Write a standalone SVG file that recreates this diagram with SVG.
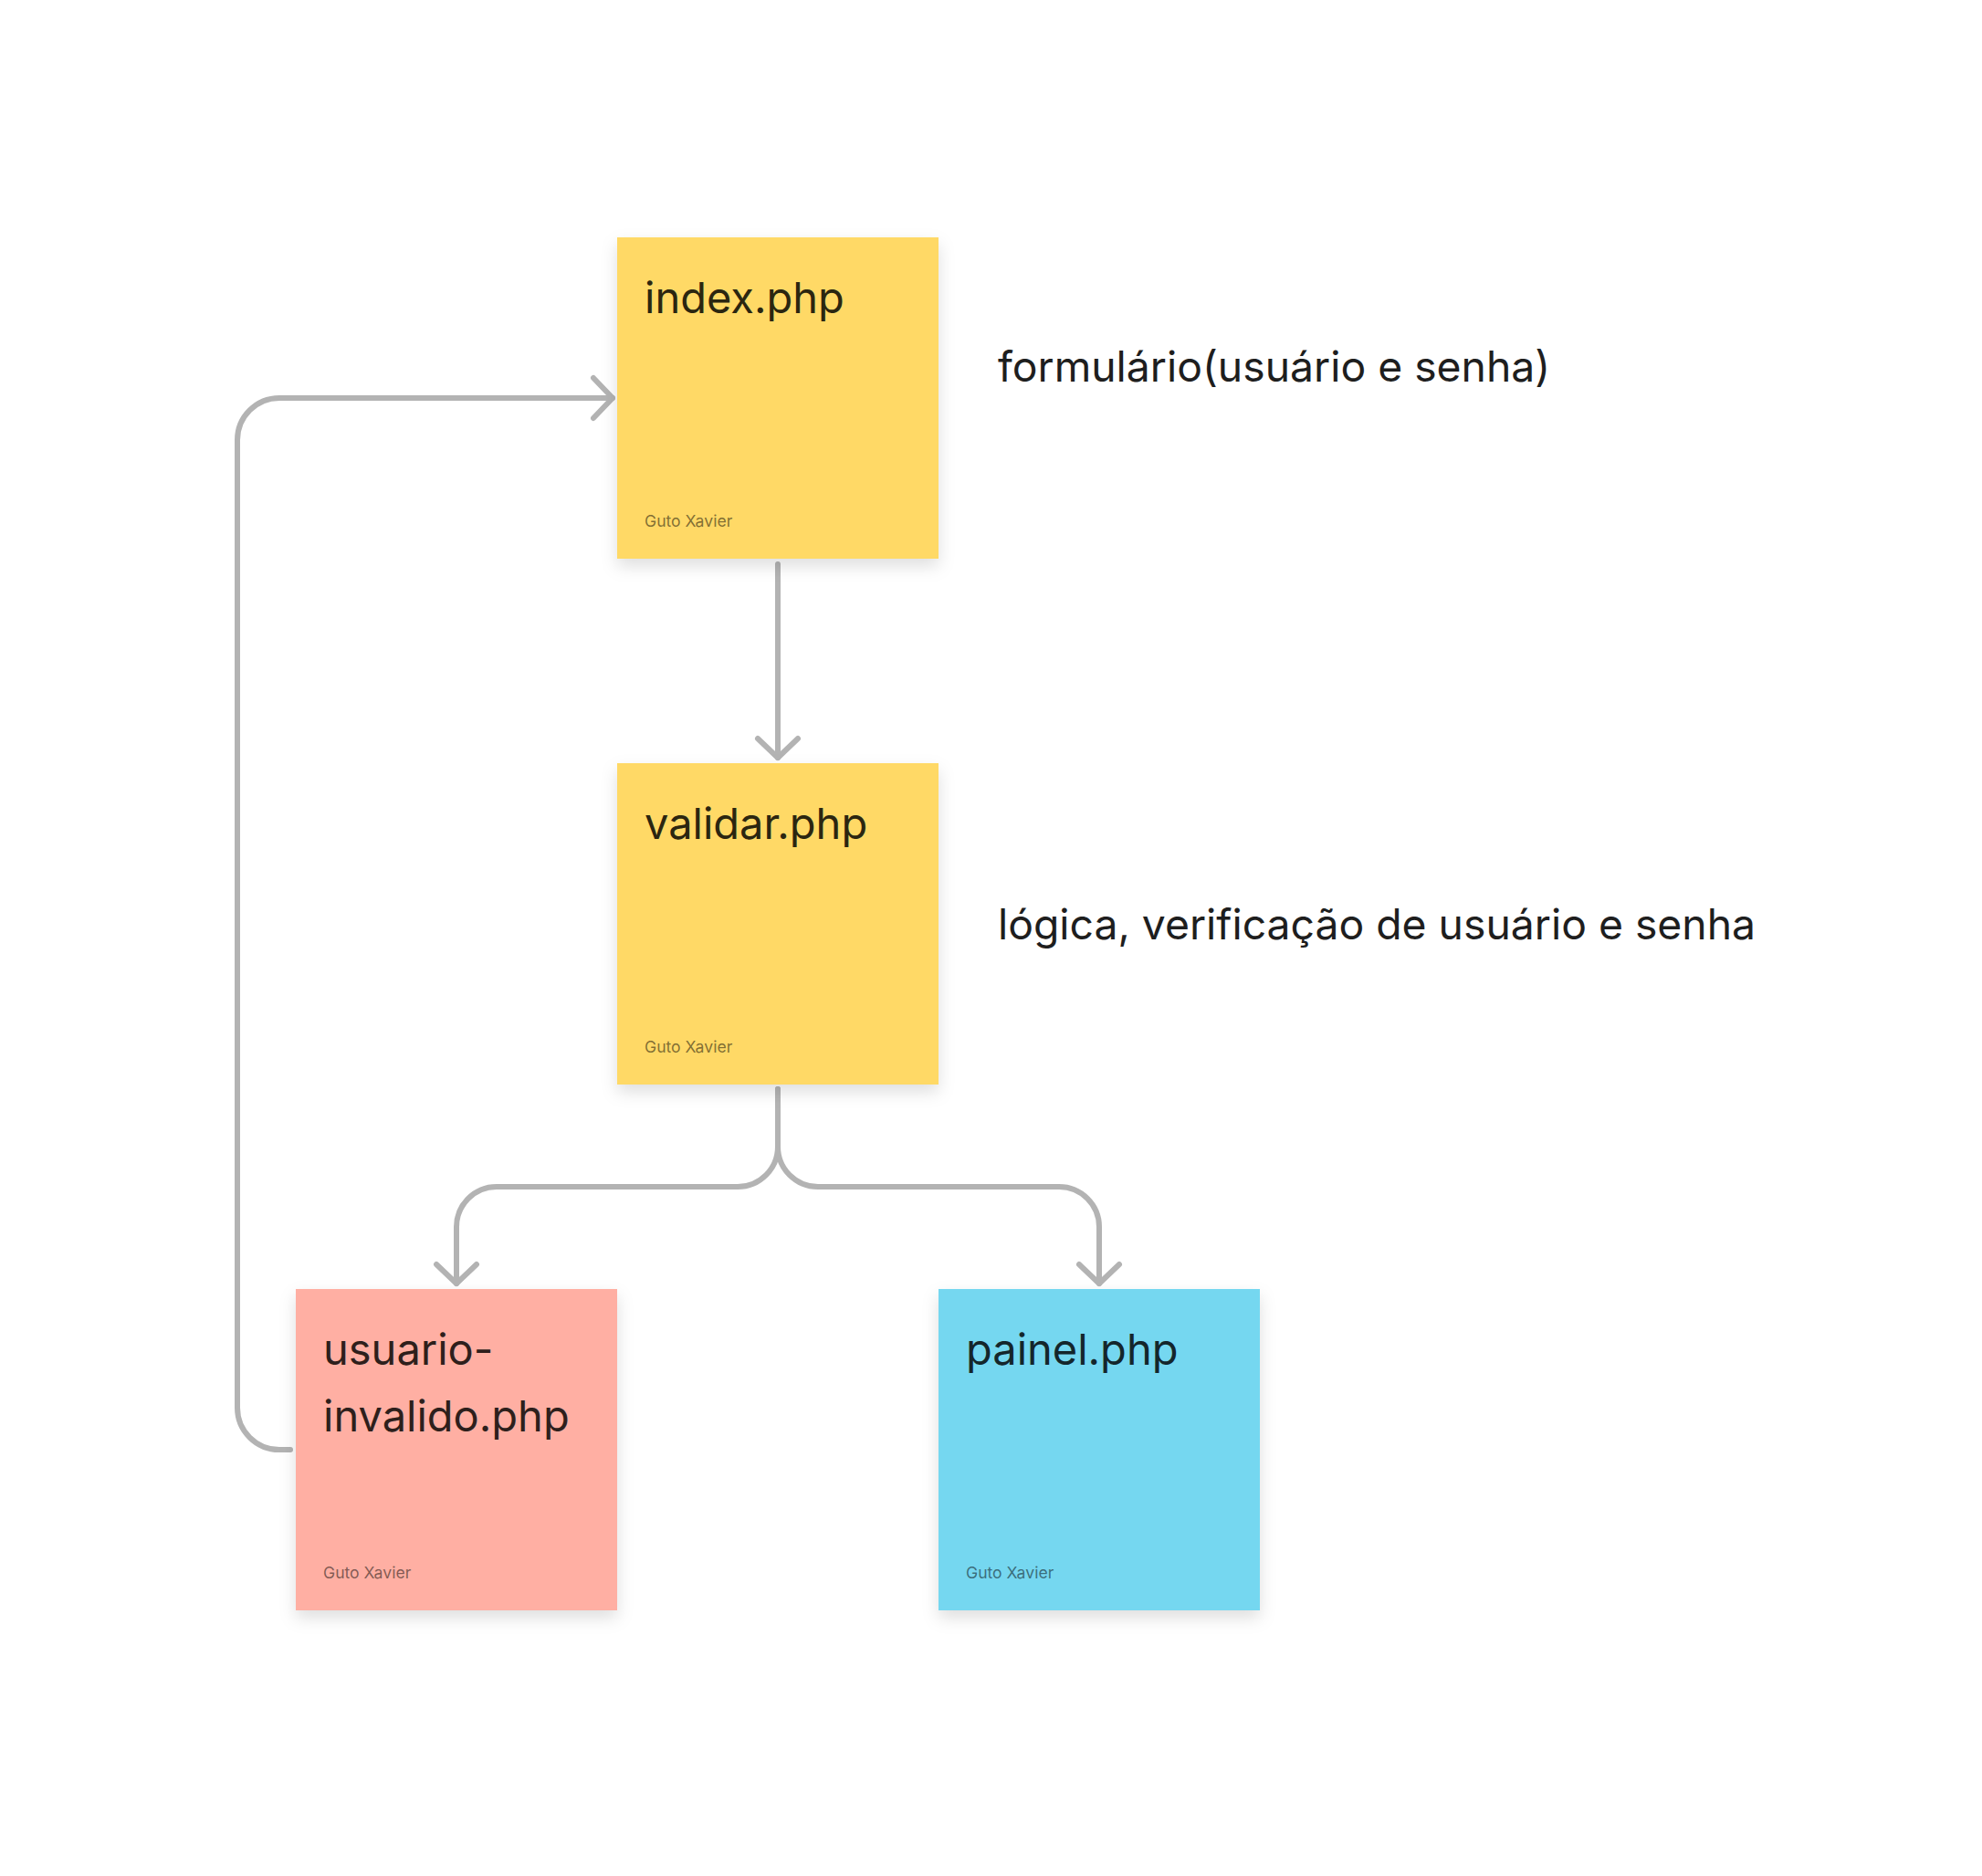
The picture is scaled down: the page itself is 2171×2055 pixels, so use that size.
<svg xmlns="http://www.w3.org/2000/svg" width="2171" height="2055" viewBox="0 0 2171 2055">
<style>
.title{font-family:Inter,"Noto Sans","Liberation Sans",sans-serif;font-size:47px;}
.author{font-family:Inter,"Noto Sans","Liberation Sans",sans-serif;font-size:17.6px;}
.label{font-family:Inter,"Noto Sans","Liberation Sans",sans-serif;font-size:46.3px;fill:#1e1e1e;}
.conn{fill:none;stroke:#b3b3b3;stroke-width:6;stroke-linecap:round;stroke-linejoin:round;}
.yellow{fill:#FFD966;}
.pink{fill:#FFAFA3;}
.blue{fill:#75D7F0;}
</style>
<defs>
<filter id="sh" x="-20%" y="-20%" width="140%" height="150%">
<feDropShadow dx="0" dy="8" stdDeviation="9" flood-color="#000" flood-opacity="0.13"/>
</filter>
<marker id="arr" markerUnits="userSpaceOnUse" markerWidth="60" markerHeight="60" refX="0" refY="0" orient="auto" overflow="visible">
<path d="M-21,-22 L0,0 L-21,22" fill="none" stroke="#b3b3b3" stroke-width="6" stroke-linecap="round" stroke-linejoin="round"/>
</marker>
</defs>
<rect width="2171" height="2055" fill="#ffffff"/>
<g id="connectors">
<path class="conn" d="M852,618 V830" marker-end="url(#arr)"/>
<path class="conn" d="M852,1193 V1256 A44,44 0 0 1 808,1300 H544 A44,44 0 0 0 500,1344 V1406" marker-end="url(#arr)"/>
<path class="conn" d="M852,1193 V1256 A44,44 0 0 0 896,1300 H1160 A44,44 0 0 1 1204,1344 V1406" marker-end="url(#arr)"/>
<path class="conn" d="M318,1588 H306 A46,46 0 0 1 260,1542 V482 A46,46 0 0 1 306,436 H671" marker-end="url(#arr)"/>
</g>
<g id="node-index">
<rect class="yellow" x="676" y="260" width="352" height="352" filter="url(#sh)"/>
<text class="title" x="706" y="343" fill="#2b2610">index.php</text>
<text class="author" x="706" y="577" fill="#2b2610" fill-opacity="0.6">Guto Xavier</text>
</g>
<g id="node-validar">
<rect class="yellow" x="676" y="836" width="352" height="352" filter="url(#sh)"/>
<text class="title" x="706" y="919" fill="#2b2610">validar.php</text>
<text class="author" x="706" y="1153" fill="#2b2610" fill-opacity="0.6">Guto Xavier</text>
</g>
<g id="node-usuario-invalido">
<rect class="pink" x="324" y="1412" width="352" height="352" filter="url(#sh)"/>
<text class="title" x="354" y="1495" fill="#2e1f1c">usuario-</text>
<text class="title" x="354" y="1568" fill="#2e1f1c">invalido.php</text>
<text class="author" x="354" y="1729" fill="#2e1f1c" fill-opacity="0.6">Guto Xavier</text>
</g>
<g id="node-painel">
<rect class="blue" x="1028" y="1412" width="352" height="352" filter="url(#sh)"/>
<text class="title" x="1058" y="1495" fill="#14262b">painel.php</text>
<text class="author" x="1058" y="1729" fill="#14262b" fill-opacity="0.6">Guto Xavier</text>
</g>
<g id="labels">
<text class="label" x="1093" y="418">formulário(usuário e senha)</text>
<text class="label" x="1093" y="1029">lógica, verificação de usuário e senha</text>
</g>
</svg>
